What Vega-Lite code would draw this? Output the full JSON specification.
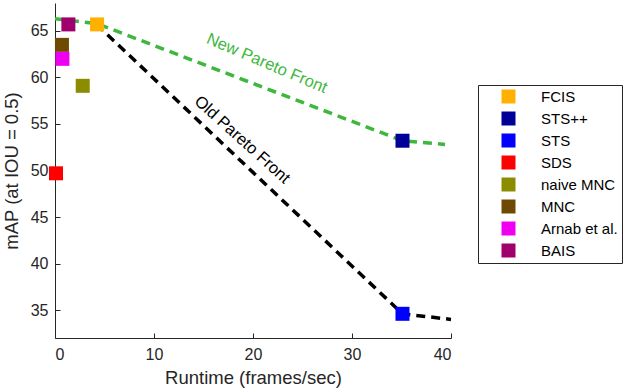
{
  "$schema": "https://vega.github.io/schema/vega-lite/v6.json",
  "width": 396,
  "height": 335,
  "autosize": {"type": "none"},
  "padding": {"left": 55, "top": 3, "right": 189, "bottom": 54},
  "config": {"view": {"stroke": null}, "font": "Liberation Sans"},
  "datasets": {
    "fronts": [
      {"front": "New Pareto Front", "ord": 1, "runtime": 0, "map": 66.3},
      {"front": "New Pareto Front", "ord": 2, "runtime": 4.2, "map": 65.8},
      {"front": "New Pareto Front", "ord": 3, "runtime": 35.1, "map": 53.2},
      {"front": "New Pareto Front", "ord": 4, "runtime": 39.4, "map": 52.8},
      {"front": "Old Pareto Front", "ord": 1, "runtime": 4.2, "map": 65.7},
      {"front": "Old Pareto Front", "ord": 2, "runtime": 35.1, "map": 34.6},
      {"front": "Old Pareto Front", "ord": 3, "runtime": 40, "map": 34.0}
    ],
    "methods": [
      {"method": "SDS", "runtime": 0.1, "map": 49.7},
      {"method": "MNC", "runtime": 0.7, "map": 63.5},
      {"method": "Arnab et al.", "runtime": 0.75, "map": 62.0},
      {"method": "naive MNC", "runtime": 2.8, "map": 59.1},
      {"method": "BAIS", "runtime": 1.35, "map": 65.7},
      {"method": "FCIS", "runtime": 4.25, "map": 65.7},
      {"method": "STS++", "runtime": 35.1, "map": 53.2},
      {"method": "STS", "runtime": 35.1, "map": 34.6}
    ]
  },
  "encoding": {
    "x": {
      "field": "runtime", "type": "quantitative",
      "scale": {"domain": [0, 40], "nice": false, "zero": false},
      "axis": {
        "title": "Runtime (frames/sec)", "values": [0, 10, 20, 30, 40], "grid": false,
        "tickSize": -5, "labelPadding": 13, "labelFontSize": 16, "titleFontSize": 18.5,
        "titleFontWeight": "normal", "titlePadding": 6,
        "domainColor": "#262626", "tickColor": "#262626", "labelColor": "#262626", "titleColor": "#262626"
      }
    },
    "y": {
      "field": "map", "type": "quantitative",
      "scale": {"domain": [32, 68], "nice": false, "zero": false},
      "axis": {
        "title": "mAP (at IOU = 0.5)", "values": [35, 40, 45, 50, 55, 60, 65], "grid": false,
        "tickSize": -5, "labelPadding": 12, "labelFontSize": 16, "titleFontSize": 18.5,
        "titleFontWeight": "normal", "titlePadding": 9,
        "domainColor": "#262626", "tickColor": "#262626", "labelColor": "#262626", "titleColor": "#262626"
      }
    }
  },
  "layer": [
    {
      "data": {"name": "fronts"},
      "mark": {"type": "line", "strokeDash": [9, 6], "strokeWidth": 3.5},
      "encoding": {
        "order": {"field": "ord", "type": "quantitative"},
        "stroke": {
          "field": "front", "type": "nominal",
          "scale": {"domain": ["New Pareto Front", "Old Pareto Front"], "range": ["#3db83d", "#000000"]},
          "legend": null
        }
      }
    },
    {
      "data": {"name": "methods"},
      "mark": {"type": "square", "filled": true, "size": 196, "opacity": 1},
      "encoding": {
        "fill": {
          "field": "method", "type": "nominal",
          "scale": {
            "domain": ["FCIS", "STS++", "STS", "SDS", "naive MNC", "MNC", "Arnab et al.", "BAIS"],
            "range": ["#ffb000", "#000099", "#0000ff", "#ff0000", "#8c8c00", "#6e4a00", "#f000f0", "#a0006e"]
          },
          "legend": {
            "title": null, "orient": "none", "legendX": 423, "legendY": 82,
            "strokeColor": "#262626", "fillColor": "white", "padding": 4,
            "symbolType": "square", "symbolSize": 196, "symbolStrokeWidth": 0,
            "labelFontSize": 15, "labelColor": "#000000", "rowPadding": 6,
            "symbolOffset": 19, "labelOffset": 25
          }
        }
      }
    },
    {
      "data": {"values": [{"label": "New Pareto Front", "runtime": 21.4, "map": 61.5}]},
      "mark": {"type": "text", "angle": 23, "fontSize": 16.5, "color": "#3db83d"},
      "encoding": {"text": {"field": "label"}}
    },
    {
      "data": {"values": [{"label": "Old Pareto Front", "runtime": 18.9, "map": 53.3}]},
      "mark": {"type": "text", "angle": 42, "fontSize": 16.5, "color": "#000000"},
      "encoding": {"text": {"field": "label"}}
    }
  ]
}
